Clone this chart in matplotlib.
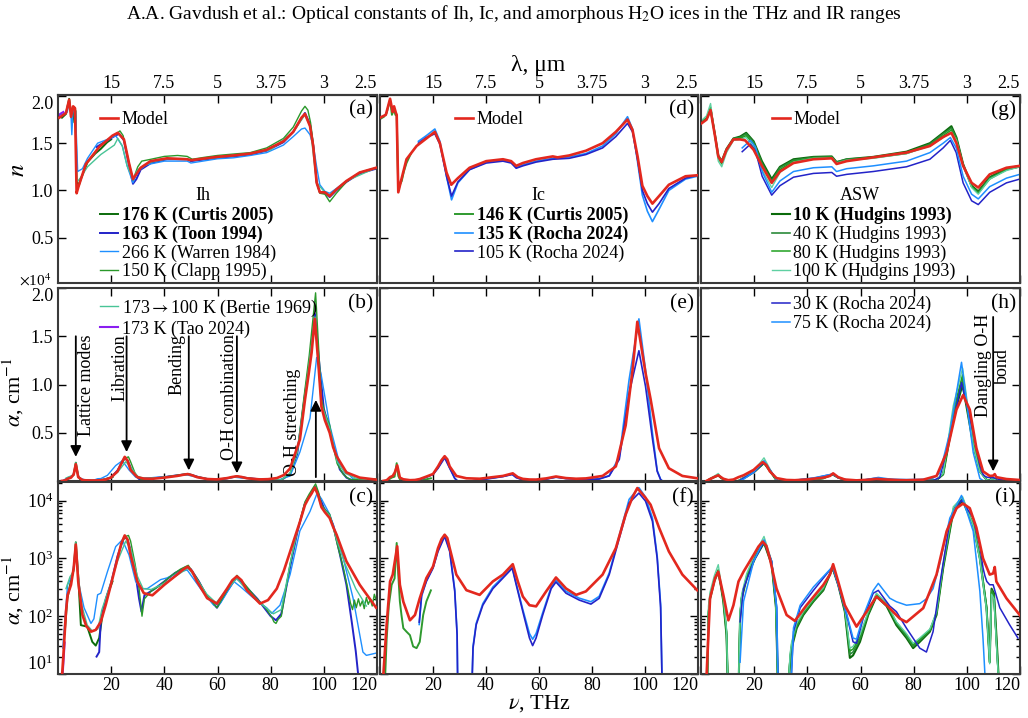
import numpy as np
import matplotlib
matplotlib.use("Agg")
import matplotlib.pyplot as plt
from matplotlib.legend import Legend

plt.rcParams['font.family'] = ['Liberation Serif', 'DejaVu Serif']
plt.rcParams['mathtext.fontset'] = 'stix'

# ---------------- Ih ice ----------------
ih_mod_n_nu = [0.5, 3.0, 4.2, 4.9, 5.7, 6.4, 7.0, 7.7, 10.5, 15.5, 20.5, 22.5, 24.8, 26.7, 28.2, 31.1, 34.8, 41.0,
               48.6, 50.0, 59.8, 66.0, 72.3, 78.5, 84.8, 88.5, 91.6, 92.9, 94.8, 96.0, 97.3, 98.5, 100.4, 102.2,
               104.7, 108.5, 113.5, 119.7]
ih_mod_n = [1.77, 1.82, 1.96, 1.78, 1.89, 1.87, 0.97, 1.04, 1.28, 1.46, 1.58, 1.61, 1.54, 1.29, 1.12, 1.24, 1.31, 1.34,
            1.33, 1.32, 1.355, 1.37, 1.39, 1.43, 1.52, 1.62, 1.77, 1.81, 1.68, 1.47, 1.08, 0.98, 0.98, 0.94,
            1.01, 1.10, 1.19, 1.24]
ih_mod_a_nu = [1.5, 2.0, 3.0, 3.6, 4.9, 5.9, 6.7, 7.6, 9.2, 10.6, 12.4, 14.2, 16.1, 18.0, 19.9, 22.4, 23.8, 25.1,
               26.2, 27.3, 29.8, 32.3, 35.5, 40.0, 44.8, 47.0, 48.8, 50.5, 52.3, 56.1, 59.8, 63.6, 65.6, 67.3,
               69.0, 71.1, 76.0, 79.0, 82.3, 85.0, 87.3, 91.0, 92.9, 94.2, 95.4, 96.6, 97.9, 99.1, 100.4, 102.2,
               103.5, 104.8, 108.5, 113.5, 119.7]
ih_mod_a = [9, 20, 120, 230, 350, 680, 1740, 400, 105, 68, 54, 58, 80, 160, 350, 1000, 1800, 2500,
            2100, 1150, 400, 250, 230, 350, 525, 640, 720, 590, 400, 205, 165, 300, 420, 490,
            420, 280, 165, 190, 300, 620, 1300, 4300, 8400, 10900, 13300, 16800, 12300, 7700, 6300, 5000,
            3500, 2570, 890, 350, 140]

ih_curtis_n_nu = [1.5, 3.0, 4.2, 5.0, 5.5, 6.1, 6.6, 7.0, 7.8, 8.6, 11.1, 14.0, 16.1, 18.5, 20.0]
ih_curtis_n = [1.77, 1.81, 1.97, 1.80, 1.72, 1.88, 1.84, 1.10, 1.05, 1.12, 1.30, 1.39, 1.44, 1.51, 1.54]
ih_curtis_a_nu = [2.5, 3.5, 4.9, 5.9, 6.7, 7.6, 8.6, 11.0, 12.9, 14.2, 15.5, 16.7, 18.6, 20.5]
ih_curtis_a = [50, 200, 420, 650, 1900, 500, 70, 66, 36, 31, 42, 105, 235, 400]

ih_toon_n_nu = [14.5, 18.0, 21.0, 23.0, 24.8, 26.7, 28.2, 29.5, 31.1, 35.0, 41.0, 48.6, 50.0, 60.0, 66.0, 72.3,
                78.5, 84.8, 88.5, 91.6, 92.9, 94.8, 96.0, 97.3, 98.5, 100.4, 102.2, 104.7, 108.5, 113.5, 119.7]
ih_toon_n = [1.46, 1.52, 1.57, 1.60, 1.53, 1.27, 1.07, 1.12, 1.22, 1.29, 1.33, 1.33, 1.31, 1.345, 1.36, 1.38,
             1.42, 1.51, 1.62, 1.76, 1.82, 1.70, 1.48, 1.09, 0.98, 0.97, 0.93, 1.00, 1.09, 1.18, 1.23]
ih_toon_a_nu = [14.5, 15.5, 16.1, 18.0, 20.0, 22.4, 24.8, 26.0, 27.5, 29.0, 30.5, 31.4, 32.5, 36.0, 40.0, 44.0,
                48.0, 50.0, 53.0, 56.0, 59.8, 63.6, 67.0, 70.0, 75.0, 80.0, 82.0, 84.0, 87.3, 90.0, 92.9, 95.0,
                96.7, 98.0, 100.0, 102.0, 103.5, 106.0, 108.5, 110.5, 112.0, 113.0]
ih_toon_a = [20, 24, 85, 200, 380, 1100, 2300, 2200, 1300, 600, 200, 120, 230, 290, 400, 560,
             700, 650, 400, 220, 140, 270, 460, 350, 200, 100, 85, 110, 700, 2800, 9000, 13000,
             17300, 13000, 7500, 5500, 3800, 1200, 350, 80, 25, 9]

ih_warren_n_nu = [0.5, 2.0, 3.5, 4.2, 4.8, 5.2, 5.6, 6.1, 6.6, 7.4, 9.2, 11.1, 14.9, 18.6, 21.7, 24.2, 26.0, 28.2,
                  30.0, 33.0, 40.0, 48.6, 50.0, 60.0, 66.0, 72.3, 78.5, 84.8, 88.5, 91.6, 92.9, 94.8, 96.2, 97.3,
                  98.5, 100.4, 102.2, 104.7, 108.5, 113.5, 119.7]
ih_warren_n = [1.80, 1.81, 1.83, 1.95, 1.85, 1.59, 1.82, 1.88, 1.83, 1.20, 1.23, 1.34, 1.50, 1.54, 1.58, 1.47, 1.26, 1.08,
               1.20, 1.27, 1.31, 1.31, 1.29, 1.335, 1.345, 1.37, 1.40, 1.48, 1.57, 1.65, 1.66, 1.59, 1.45, 1.25,
               1.06, 0.99, 0.97, 1.02, 1.10, 1.19, 1.24]
ih_warren_a_nu = [1.8, 3.6, 5.5, 6.7, 7.9, 9.8, 12.4, 13.5, 14.9, 16.1, 18.6, 21.7, 24.2, 26.7, 29.2, 31.1, 33.6,
                  38.6, 41.0, 46.0, 48.6, 53.6, 58.6, 61.0, 66.1, 68.6, 73.6, 78.5, 80.4, 83.5, 87.3, 91.0, 94.8,
                  97.3, 99.0, 102.2, 106.0, 111.0, 114.7, 116.0, 119.7]
ih_warren_a = [28, 350, 525, 1600, 350, 140, 75, 90, 235, 250, 590, 1600, 2100, 1150, 400, 300, 300,
               430, 460, 590, 630, 300, 155, 165, 400, 325, 205, 140, 112, 155, 525, 3000, 6500,
               12800, 11000, 5800, 1750, 205, 24, 21, 23]

ih_clapp_n_nu = [22.0, 23.3, 24.5, 26.5, 28.2, 30.0, 31.5, 35.0, 40.0, 45.0, 48.6, 50.5, 55.0, 60.0, 66.0, 72.3,
                 78.5, 84.8, 88.5, 91.6, 92.9, 94.0, 95.0, 96.0, 97.3, 98.5, 100.4, 102.2, 104.7, 108.5, 113.5, 119.7]
ih_clapp_n = [1.60, 1.63, 1.58, 1.32, 1.11, 1.25, 1.31, 1.33, 1.36, 1.37, 1.36, 1.33, 1.35, 1.37, 1.385, 1.40,
              1.45, 1.55, 1.67, 1.84, 1.89, 1.85, 1.72, 1.50, 1.08, 0.97, 0.96, 0.88, 0.97, 1.09, 1.19, 1.24]
ih_clapp_a_nu = [24.0, 25.5, 26.5, 27.3, 29.0, 30.5, 31.6, 32.5, 35.0, 38.0, 42.0, 46.0, 49.0, 52.3, 56.0, 59.8,
                 63.6, 67.3, 70.0, 74.0, 78.0, 80.5, 81.2, 82.0, 82.8, 84.0, 87.3, 90.0, 92.9, 94.5, 96.9, 98.0,
                 99.1, 100.4, 102.2, 103.5, 105.0, 107.3, 109.0, 110.0, 110.8, 111.5, 112.2, 113.0, 113.7, 114.5,
                 115.2, 116.0, 116.7, 117.5, 118.2, 119.0, 119.7]
ih_clapp_a = [1900, 2400, 2500, 2000, 800, 300, 100, 200, 270, 330, 480, 650, 760, 450, 230, 140,
              280, 510, 370, 220, 140, 95, 80, 75, 88, 100, 800, 3000, 9500, 13000, 19500, 14000,
              8500, 7000, 5800, 3600, 1800, 700, 300, 170, 130, 190, 140, 200, 150, 185,
              135, 210, 160, 195, 150, 240, 190]

ih_bertie_n_nu = [7.5, 8.6, 11.1, 16.1, 21.2, 22.5, 24.2, 26.0, 28.2, 30.0, 35.0, 41.0, 48.6, 50.0, 60.0, 70.0,
                  80.0, 88.5, 92.9, 94.8, 97.3, 100.4, 102.2, 108.5, 119.7]
ih_bertie_n = [1.10, 1.14, 1.25, 1.38, 1.48, 1.55, 1.47, 1.26, 1.12, 1.22, 1.30, 1.335, 1.33, 1.32, 1.35, 1.38,
               1.43, 1.62, 1.80, 1.68, 1.08, 0.98, 0.95, 1.10, 1.24]
ih_bertie_a_nu = [3.0, 4.5, 5.9, 6.7, 7.6, 9.0, 11.0, 13.0, 15.0, 16.5, 19.9, 22.4, 25.5, 27.5, 29.8, 32.0, 35.0,
                  40.0, 45.0, 49.0, 52.0, 56.0, 59.5, 63.5, 67.3, 71.0, 76.0, 81.0, 84.0, 87.3, 90.0, 93.0, 96.7,
                  99.0, 102.2, 105.0, 108.0, 112.0, 116.0]
ih_bertie_a = [300, 480, 600, 1900, 500, 150, 70, 55, 60, 130, 380, 900, 2000, 1400, 500, 300, 290,
               370, 520, 680, 450, 240, 170, 290, 450, 280, 170, 110, 130, 800, 3000, 9000, 17000,
               8000, 5500, 2000, 800, 300, 150]

ih_tao_n_nu = [0.3, 0.8, 1.4, 2.0]
ih_tao_n = [1.79, 1.81, 1.82, 1.83]
ih_tao_a_nu = [1.6, 2.0, 2.5]
ih_tao_a = [8, 15, 35]

# ---------------- Ic ice ----------------
ic_mod_n_nu = [0.0, 2.2, 3.8, 4.8, 5.3, 6.0, 6.3, 6.9, 8.1, 10.0, 13.8, 17.5, 20.7, 22.6, 25.1, 26.9, 29.4, 33.8,
               40.1, 46.4, 49.5, 51.4, 53.9, 58.9, 65.2, 67.0, 71.4, 77.7, 84.0, 89.0, 93.4, 95.3, 97.2, 99.0,
               100.9, 102.8, 105.3, 109.0, 115.3, 119.7]
ic_mod_n = [1.77, 1.80, 1.97, 1.83, 1.89, 1.82, 1.80, 0.98, 1.12, 1.33, 1.47, 1.55, 1.62, 1.50, 1.19, 1.06, 1.13, 1.24,
            1.31, 1.33, 1.31, 1.26, 1.29, 1.33, 1.36, 1.35, 1.37, 1.42, 1.50, 1.62, 1.75, 1.64, 1.36, 1.05,
            0.94, 0.86, 0.94, 1.06, 1.15, 1.16]
ic_mod_a_nu = [1.25, 2.5, 3.8, 4.8, 5.6, 6.5, 7.5, 8.8, 11.3, 13.2, 15.0, 17.5, 20.0, 21.9, 23.2, 24.4, 25.4, 26.3,
               28.8, 32.6, 37.6, 42.6, 46.4, 50.1, 52.0, 53.9, 56.4, 58.9, 62.7, 66.4, 70.2, 74.0, 77.7, 84.0,
               89.0, 92.7, 95.3, 97.1, 100.2, 102.1, 105.3, 109.0, 114.1, 119.7]
ic_mod_a = [9.5, 71, 400, 525, 890, 1620, 350, 178, 85, 105, 204, 457, 724, 1510, 2150, 2570, 2250, 1510,
            525, 282, 234, 400, 525, 794, 400, 219, 155, 148, 269, 468, 302, 234, 269, 525,
            1510, 5750, 11500, 16500, 11200, 8500, 3400, 1320, 525, 282]

ic_curtis_n_nu = [0.3, 1.5, 2.5, 3.8, 4.5, 5.3, 5.8, 6.3, 6.9, 7.5, 8.2, 9.0, 10.0, 11.5]
ic_curtis_n = [1.76, 1.78, 1.82, 1.96, 1.80, 1.86, 1.80, 1.79, 1.00, 1.06, 1.10, 1.20, 1.29, 1.38]
ic_curtis_a_nu = [1.9, 2.5, 3.3, 4.4, 5.5, 6.3, 6.9, 7.5, 8.1, 8.8, 10.0, 11.3, 12.5, 13.8, 15.0, 16.3, 17.5, 19.2]
ic_curtis_a = [8, 40, 150, 350, 450, 1850, 525, 180, 105, 62, 54, 47, 30, 28, 36, 105, 180, 280]

ic_rocha_n_nu = [14.5, 17.5, 20.7, 22.6, 25.1, 27.0, 29.4, 33.8, 40.1, 46.4, 49.5, 51.4, 53.9, 58.9, 65.2, 71.4,
                 77.7, 84.0, 89.0, 93.4, 95.3, 97.2, 99.0, 100.9, 102.8, 105.3, 109.0, 115.3, 119.7]
ic_rocha135_n = [1.52, 1.58, 1.65, 1.52, 1.15, 0.90, 1.08, 1.22, 1.30, 1.32, 1.30, 1.24, 1.27, 1.31, 1.34, 1.355,
                 1.39, 1.47, 1.60, 1.78, 1.65, 1.30, 0.95, 0.78, 0.67, 0.80, 1.00, 1.12, 1.15]
ic_rocha105_n = [1.50, 1.56, 1.60, 1.49, 1.15, 0.94, 1.09, 1.22, 1.29, 1.31, 1.29, 1.235, 1.26, 1.30, 1.33, 1.34,
                 1.38, 1.45, 1.57, 1.71, 1.62, 1.33, 1.00, 0.86, 0.77, 0.86, 1.02, 1.13, 1.16]
ic_rocha_a_nu = [14.8, 15.7, 17.5, 20.0, 21.9, 24.4, 26.3, 28.2, 29.1, 29.4, 34.5, 35.1, 36.3, 38.8, 42.6, 46.4,
                 49.9, 51.4, 53.9, 56.4, 57.6, 58.9, 61.4, 64.6, 66.4, 70.2, 75.2, 79.6, 82.7, 86.5, 90.3, 94.0,
                 97.7, 100.2, 102.8, 104.6, 105.9, 106.6]
ic_rocha135_a = [72, 220, 410, 700, 1400, 2550, 1400, 290, 50, 3, 3, 30, 75, 165, 320, 480,
                 700, 370, 130, 50, 40, 50, 115, 320, 420, 270, 205, 178, 220, 560, 2500, 10500,
                 16800, 11500, 5000, 1100, 160, 3]
ic_rocha105_a = [79, 234, 400, 676, 1320, 2400, 1320, 270, 47, 3, 3, 28, 71, 155, 300, 457,
                 676, 350, 120, 42, 31, 42, 105, 300, 390, 250, 190, 162, 204, 525, 2240, 9100,
                 13500, 9800, 4400, 1000, 140, 3]

# ---------------- ASW ----------------
asw_mod_n_nu = [0.2, 2.1, 3.6, 5.3, 6.5, 7.8, 9.6, 12.2, 14.7, 16.6, 19.8, 22.9, 26.6, 29.7, 34.8, 42.3, 49.2,
                51.0, 54.8, 64.8, 77.3, 86.1, 91.1, 94.2, 96.1, 98.6, 101.8, 104.3, 108.6, 114.9, 119.9]
asw_mod_n = [1.71, 1.75, 1.85, 1.57, 1.36, 1.30, 1.43, 1.54, 1.54, 1.53, 1.43, 1.26, 1.08, 1.20, 1.29, 1.33, 1.34,
             1.28, 1.31, 1.35, 1.40, 1.47, 1.565, 1.61, 1.50, 1.26, 1.08, 1.03, 1.17, 1.24, 1.26]
asw_mod_a_nu = [2.1, 3.4, 5.3, 6.5, 8.4, 10.3, 12.2, 14.1, 16.0, 19.8, 21.6, 23.2, 24.6, 25.9, 28.4, 32.2, 35.3,
                39.7, 46.0, 48.5, 49.7, 51.6, 54.1, 58.5, 62.3, 66.0, 69.8, 74.8, 77.3, 83.6, 88.6, 92.4, 96.1,
                98.6, 101.1, 103.6, 106.1, 108.6, 109.9, 110.5, 111.1, 114.9, 119.9]
asw_mod_a = [9.5, 204, 457, 589, 234, 85, 155, 398, 589, 1150, 1600, 1950, 1650, 1000, 302, 105, 83,
             155, 347, 525, 794, 398, 155, 66, 120, 219, 155, 91, 79, 138, 525, 2950, 7400,
             8900, 7400, 3400, 1000, 525, 550, 710, 398, 204, 105]

hud_n_nu = [0.2, 2.1, 3.6, 5.3, 6.5, 7.8, 9.6, 12.2, 14.7, 17.0, 19.8, 22.9, 26.6, 29.7, 34.8, 42.3, 49.2, 51.0,
            54.8, 64.8, 77.3, 86.1, 91.1, 94.2, 96.1, 98.6, 101.8, 104.3, 108.6, 114.9, 119.9]
hud10_n = [1.72, 1.76, 1.86, 1.58, 1.37, 1.31, 1.44, 1.55, 1.57, 1.61, 1.52, 1.31, 1.12, 1.25, 1.33, 1.355, 1.36, 1.30,
           1.33, 1.355, 1.41, 1.50, 1.61, 1.68, 1.56, 1.28, 1.05, 0.99, 1.14, 1.23, 1.26]
hud40_n = [1.72, 1.76, 1.87, 1.58, 1.36, 1.30, 1.43, 1.55, 1.56, 1.60, 1.51, 1.29, 1.10, 1.24, 1.32, 1.35, 1.355, 1.30,
           1.33, 1.35, 1.40, 1.49, 1.60, 1.66, 1.55, 1.27, 1.04, 0.98, 1.13, 1.22, 1.25]
hud80_n = [1.73, 1.77, 1.88, 1.57, 1.34, 1.28, 1.42, 1.54, 1.55, 1.58, 1.49, 1.27, 1.08, 1.22, 1.31, 1.345, 1.35, 1.29,
           1.32, 1.345, 1.39, 1.48, 1.58, 1.64, 1.54, 1.27, 1.04, 0.97, 1.12, 1.22, 1.25]
hud100_n = [1.74, 1.79, 1.92, 1.56, 1.31, 1.25, 1.40, 1.53, 1.54, 1.56, 1.46, 1.22, 1.03, 1.19, 1.30, 1.34, 1.345, 1.29,
            1.32, 1.34, 1.39, 1.47, 1.56, 1.62, 1.53, 1.26, 1.03, 0.96, 1.12, 1.21, 1.25]
hud_a_nu = [2.2, 2.8, 3.4, 5.0, 6.5, 7.5, 8.4, 9.6, 10.3, 11.5, 14.0, 14.7, 15.3, 17.2, 20.3, 23.7, 26.6, 28.2, 29.1,
            32.5, 33.5, 34.1, 36.0, 38.5, 42.3, 46.0, 49.5, 51.6, 54.1, 56.0, 57.2, 59.8, 62.9, 66.0, 69.8, 73.5,
            77.3, 79.8, 82.3, 86.1, 88.6, 91.1, 94.9, 98.4, 102.4, 104.9, 107.4, 108.6, 109.3, 110.2, 111.2, 112.5]
hud10_a = [3, 100, 200, 400, 590, 330, 180, 47, 3, 3, 3, 90, 200, 460, 1000, 1860, 780, 140, 3,
           3, 16, 28, 62, 105, 180, 280, 680, 350, 120, 19, 21, 36, 105, 220, 150, 70,
           42, 28, 36, 54, 105, 680, 6500, 10000, 3800, 1000, 140, 16, 300, 250, 40, 3]
hud40_a = [3, 110, 210, 420, 610, 340, 190, 50, 3, 3, 3, 100, 210, 480, 1050, 1950, 820, 150, 3,
           3, 18, 30, 66, 110, 185, 290, 690, 360, 125, 22, 24, 40, 110, 230, 160, 75,
           45, 30, 38, 56, 110, 720, 6800, 10500, 3900, 1050, 150, 18, 280, 230, 35, 3]
hud80_a = [3, 120, 230, 450, 640, 350, 200, 55, 3, 3, 3, 110, 220, 500, 1100, 2050, 850, 160, 3,
           3, 20, 33, 70, 115, 190, 300, 700, 370, 130, 25, 27, 44, 115, 240, 165, 78,
           48, 32, 40, 58, 115, 750, 7200, 11000, 3800, 1000, 140, 16, 260, 210, 30, 3]
hud100_a = [3, 150, 260, 500, 780, 380, 210, 60, 3, 3, 3, 120, 240, 550, 1200, 2400, 900, 170, 3,
            3, 22, 36, 75, 120, 200, 310, 720, 380, 135, 28, 30, 48, 120, 250, 170, 80,
            50, 34, 42, 60, 120, 800, 7800, 11700, 3700, 950, 130, 15, 240, 200, 28, 3]

asw_rocha_n_nu = [15.5, 18.6, 20.5, 23.0, 26.6, 29.7, 34.8, 42.3, 49.2, 51.0, 54.8, 64.8, 77.3, 86.1, 91.1, 93.8,
                  96.0, 98.6, 101.8, 104.3, 108.6, 114.9, 119.9]
rocha75_n = [1.45, 1.53, 1.46, 1.20, 0.98, 1.10, 1.20, 1.24, 1.25, 1.20, 1.23, 1.26, 1.31, 1.40, 1.50, 1.56,
             1.45, 1.15, 0.96, 0.91, 1.04, 1.13, 1.17]
rocha30_n = [1.41, 1.49, 1.42, 1.15, 0.95, 1.05, 1.14, 1.18, 1.19, 1.15, 1.17, 1.20, 1.25, 1.33, 1.45, 1.53,
             1.40, 1.08, 0.89, 0.85, 0.98, 1.08, 1.12]
asw_rocha_a_nu = [14.7, 16.0, 19.8, 23.7, 26.6, 28.5, 29.1, 33.5, 34.8, 37.3, 42.3, 49.5, 51.6, 54.8, 57.2, 58.5,
                  61.0, 64.8, 66.7, 71.0, 73.5, 77.3, 82.3, 84.8, 87.3, 89.8, 93.6, 98.0, 102.4, 104.9, 106.1,
                  106.8, 107.5, 108.6, 109.9, 112.4, 116.1, 119.2]
rocha30_a = [80, 300, 890, 1950, 890, 140, 3, 3, 54, 140, 280, 720, 350, 105, 36, 34,
             91, 250, 280, 150, 120, 62, 28, 24, 54, 350, 4400, 10200, 5000, 1600, 680,
             500, 400, 350, 350, 140, 71, 42]
rocha75_a = [16, 180, 890, 2100, 890, 140, 3, 3, 63, 155, 320, 720, 350, 110, 42, 40,
             100, 280, 370, 205, 178, 155, 165, 200, 300, 800, 5000, 12300, 2950, 270, 40,
             10, 3, np.nan, np.nan, np.nan, np.nan, np.nan]

thz_ticks = [20, 40, 60, 80, 100, 120]
lam_labels = ['15', '7.5', '5', '3.75', '3', '2.5']

RED = '#e3281e'
DKGREEN = '#0b6b0b'
GREEN = '#2a982a'
DKBLUE = '#2323c8'
LTBLUE = '#1e8fff'
TEAL = '#48c496'
VIOLET = '#8a1ef0'

# (n_nu, n, a_nu, a, colour, lw, label)
columns = [
    [(ih_curtis_n_nu, ih_curtis_n, ih_curtis_a_nu, ih_curtis_a, DKGREEN, 1.4, '176 K (Curtis 2005)'),
     (ih_toon_n_nu, ih_toon_n, ih_toon_a_nu, ih_toon_a, DKBLUE, 1.4, '163 K (Toon 1994)'),
     (ih_warren_n_nu, ih_warren_n, ih_warren_a_nu, ih_warren_a, LTBLUE, 1.0, '266 K (Warren 1984)'),
     (ih_clapp_n_nu, ih_clapp_n, ih_clapp_a_nu, ih_clapp_a, GREEN, 1.0, '150 K (Clapp 1995)'),
     (ih_bertie_n_nu, ih_bertie_n, ih_bertie_a_nu, ih_bertie_a, TEAL, 1.0, r'173$\rightarrow$100 K (Bertie 1969)'),
     (ih_tao_n_nu, ih_tao_n, ih_tao_a_nu, ih_tao_a, VIOLET, 1.5, '173 K (Tao 2024)')],
    [(ic_curtis_n_nu, ic_curtis_n, ic_curtis_a_nu, ic_curtis_a, '#2f9a2f', 1.4, '146 K (Curtis 2005)'),
     (ic_rocha_n_nu, ic_rocha135_n, ic_rocha_a_nu, ic_rocha135_a, LTBLUE, 1.2, '135 K (Rocha 2024)'),
     (ic_rocha_n_nu, ic_rocha105_n, ic_rocha_a_nu, ic_rocha105_a, DKBLUE, 1.2, '105 K (Rocha 2024)')],
    [(hud_n_nu, hud10_n, hud_a_nu, hud10_a, DKGREEN, 1.5, '10 K (Hudgins 1993)'),
     (hud_n_nu, hud40_n, hud_a_nu, hud40_a, '#2b8a3a', 1.2, '40 K (Hudgins 1993)'),
     (hud_n_nu, hud80_n, hud_a_nu, hud80_a, '#1fa01f', 1.1, '80 K (Hudgins 1993)'),
     (hud_n_nu, hud100_n, hud_a_nu, hud100_a, '#5fd0a2', 1.0, '100 K (Hudgins 1993)'),
     (asw_rocha_n_nu, rocha30_n, asw_rocha_a_nu, rocha30_a, DKBLUE, 1.1, '30 K (Rocha 2024)'),
     (asw_rocha_n_nu, rocha75_n, asw_rocha_a_nu, rocha75_a, LTBLUE, 1.1, '75 K (Rocha 2024)')],
]
models = [(ih_mod_n_nu, ih_mod_n, ih_mod_a_nu, ih_mod_a),
          (ic_mod_n_nu, ic_mod_n, ic_mod_a_nu, ic_mod_a),
          (asw_mod_n_nu, asw_mod_n, asw_mod_a_nu, asw_mod_a)]

W, H = 1028, 718
fig = plt.figure(figsize=(W / 100, H / 100), dpi=100)
lefts, rights = [58, 380, 701], [377, 698, 1020]
tops, bottoms = [95, 288, 482], [283, 481, 674]
axs = [[fig.add_axes([lefts[c] / W, 1 - bottoms[r] / H, (rights[c] - lefts[c]) / W,
                      (bottoms[r] - tops[r]) / H]) for c in range(3)] for r in range(3)]


def add_legend(ax, handles, labels, x, y, loc='upper left', bold=()):
    leg = Legend(ax, handles, labels, loc=loc, bbox_to_anchor=(x, y), frameon=False, fontsize=13,
                 handlelength=1.0, handletextpad=0.2, borderpad=0, borderaxespad=0, labelspacing=0.08)
    for i in bold:
        leg.get_texts()[i].set_fontweight('bold')
    ax.add_artist(leg)


handles = []
for c in range(3):
    hl = []
    for n_nu, n, a_nu, a, col, lw, lab in columns[c]:
        l0, = axs[0][c].plot(n_nu, n, color=col, lw=lw)
        axs[1][c].plot(a_nu, np.array(a) / 1e4, color=col, lw=lw)
        axs[2][c].plot(a_nu, a, color=col, lw=lw)
        hl.append(l0)
    mn_nu, mn, ma_nu, ma = models[c]
    lm, = axs[0][c].plot(mn_nu, mn, color=RED, lw=1.9, zorder=5)
    axs[1][c].plot(ma_nu, np.array(ma) / 1e4, color=RED, lw=1.9, zorder=5)
    axs[2][c].plot(ma_nu, ma, color=RED, lw=1.9, zorder=5)
    handles.append((lm, hl))

letters = 'abcdefghi'
for r in range(3):
    for c in range(3):
        ax = axs[r][c]
        ax.set_xlim(0, 120)
        ax.set_xticks(thz_ticks)
        for s in ax.spines.values():
            s.set_linewidth(1.5)
            s.set_color('#3a3a3a')
        ax.tick_params(which='both', direction='in', top=(r > 0), right=True, labelsize=13, width=1.0)
        ax.tick_params(which='major', length=6)
        ax.tick_params(which='minor', length=3)
        ax.tick_params(axis='x', pad=2)
        if r == 0:
            ax.set_ylim(0.02, 2.01)
            ax.set_yticks([0.5, 1.0, 1.5, 2.0], labels=['0.5', '1.0', '1.5', '2.0'])
            sec = ax.secondary_xaxis('top')
            sec.set_xticks(thz_ticks, labels=lam_labels)
            sec.tick_params(direction='in', length=6, width=1.0, labelsize=13, pad=2)
            sec.spines['top'].set_linewidth(1.5)
            sec.spines['top'].set_color('#3a3a3a')
            t = sec.xaxis.get_major_ticks()[-1]
            t.label1.set_horizontalalignment('right')
            t.label2.set_horizontalalignment('right')
        elif r == 1:
            ax.set_ylim(0, 2.0)
            ax.set_yticks([0.5, 1.0, 1.5, 2.0], labels=['0.5', '1.0', '1.5', '2.0'])
        else:
            ax.set_yscale('log')
            ax.set_ylim(10, 2.1e4)
            ax.set_yticks([10, 100, 1000, 1e4])
        if r < 2:
            ax.tick_params(labelbottom=False)
        else:
            ax.xaxis.get_major_ticks()[-1].label1.set_horizontalalignment('right')
        if c > 0:
            ax.tick_params(which='both', labelleft=False)
        else:
            if r < 2:
                ax.yaxis.get_major_ticks()[-1].label1.set_verticalalignment('top')
            else:
                ax.yaxis.get_major_ticks()[0].label1.set_verticalalignment('bottom')
        ax.text(0.987, 0.92, '(%s)' % letters[c * 3 + r], transform=ax.transAxes, ha='right', va='center',
                fontsize=15.5)

# legends
lm, hl = handles[0]
add_legend(axs[0][0], [lm], ['Model'], 0.132, 0.868, loc='center left')
axs[0][0].text(0.455, 0.463, 'Ih', transform=axs[0][0].transAxes, ha='center', va='center', fontsize=13)
add_legend(axs[0][0], hl[:4], [h[6] for h in columns[0][:4]], 0.132, 0.405, bold=(0, 1))
add_legend(axs[1][0], hl[4:], [h[6] for h in columns[0][4:]], 0.132, 0.95)

lm, hl = handles[1]
add_legend(axs[0][1], [lm], ['Model'], 0.236, 0.868, loc='center left')
axs[0][1].text(0.497, 0.463, 'Ic', transform=axs[0][1].transAxes, ha='center', va='center', fontsize=13)
add_legend(axs[0][1], hl, [h[6] for h in columns[1]], 0.236, 0.405, bold=(0, 1))

lm, hl = handles[2]
add_legend(axs[0][2], [lm], ['Model'], 0.222, 0.868, loc='center left')
axs[0][2].text(0.498, 0.468, 'ASW', transform=axs[0][2].transAxes, ha='center', va='center', fontsize=13)
add_legend(axs[0][2], hl[:4], [h[6] for h in columns[2][:4]], 0.222, 0.405, bold=(0,))
add_legend(axs[1][2], hl[4:], [h[6] for h in columns[2][4:]], 0.222, 0.958)

# annotations in (b)
arw = dict(arrowstyle='-|>', color='k', lw=1.3, mutation_scale=16, shrinkA=0, shrinkB=0)
axb = axs[1][0]
for x0, y0, y1, tx, txt in [(6.7, 1.5, 0.25, 10.8, 'Lattice modes'), (25.8, 1.5, 0.30, 23.3, 'Libration'),
                            (49.2, 1.5, 0.11, 44.6, 'Bending'), (67.3, 1.5, 0.08, 64.6, 'O-H combination')]:
    axb.annotate('', xy=(x0, y1), xytext=(x0, y0), arrowprops=arw)
    axb.text(tx, 1.52, txt, rotation=90, ha='center', va='top', fontsize=13)
axb.annotate('', xy=(97.0, 0.84), xytext=(97.0, 0.04), arrowprops=arw)
axb.text(88.2, 0.05, 'O-H stretching', rotation=90, ha='center', va='bottom', fontsize=13)

axh = axs[1][2]
axh.annotate('', xy=(109.9, 0.1), xytext=(109.9, 1.7), arrowprops=arw)
axh.text(109.9, 1.73, 'Dangling O-H\nbond', rotation=90, ha='center', va='top', fontsize=13,
         multialignment='center', linespacing=1.15)

# axis labels and titles
fig.text(0.5, 1 - 14 / H, 'A.A. Gavdush et al.: Optical constants of Ih, Ic, and amorphous H$_2$O ices in the THz and IR ranges',
         ha='center', va='center', fontsize=14)
fig.text(538 / W, 1 - 66 / H, 'λ, μm', ha='center', va='center', fontsize=17)
fig.text(539 / W, 1 - 704 / H, r'$\nu$, THz', ha='center', va='center', fontsize=16)
fig.text(18 / W, 1 - 170 / H, r'$n$', ha='center', va='center', rotation=90, fontsize=18)
fig.text(13 / W, 1 - 392 / H, r'$\alpha$, cm$^{-1}$', ha='center', va='center', rotation=90, fontsize=16)
fig.text(13 / W, 1 - 590 / H, r'$\alpha$, cm$^{-1}$', ha='center', va='center', rotation=90, fontsize=16)
fig.text(35 / W, 1 - 280 / H, r'$\times$10$^4$', ha='center', va='center', fontsize=11)

fig.savefig('out.png', dpi=100)
